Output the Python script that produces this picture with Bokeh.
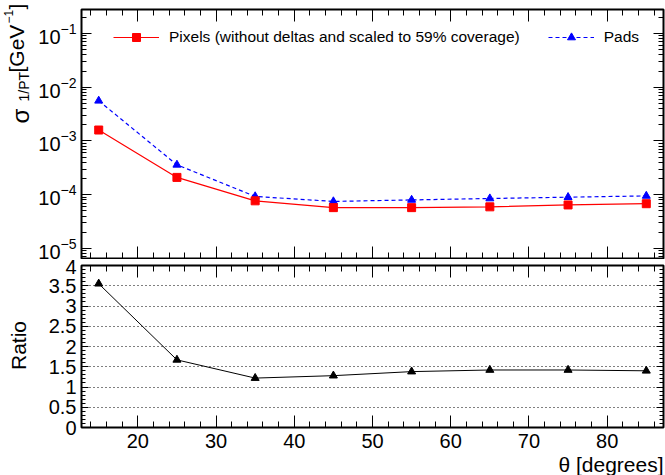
import math
from bokeh.plotting import figure
from bokeh.models import (Range1d, FixedTicker, LinearAxis, LogAxis, Label,
                          Legend, LegendItem, ColumnDataSource, Title,
                          CustomJSTickFormatter)
from bokeh.layouts import column, row
from bokeh.embed import file_html
from bokeh.resources import INLINE

# ---------------- data ----------------
theta = [15, 25, 35, 45, 55, 65, 75, 85]
pixels = [1.6e-3, 2.1e-4, 7.7e-5, 5.75e-5, 5.75e-5, 5.95e-5, 6.45e-5, 6.8e-5]
pads = [5.6e-3, 3.6e-4, 9.3e-5, 7.5e-5, 8.0e-5, 8.5e-5, 9.0e-5, 9.5e-5]
ratio = [3.55, 1.67, 1.22, 1.28, 1.38, 1.42, 1.42, 1.40]

x_major = [20, 30, 40, 50, 60, 70, 80]
x_minor = [14, 16, 18, 22, 24, 26, 28, 32, 34, 36, 38, 42, 44, 46, 48,
           52, 54, 56, 58, 62, 64, 66, 68, 72, 74, 76, 78, 82, 84, 86]
log_major = [1e-5, 1e-4, 1e-3, 1e-2, 1e-1]
log_minor = [m * 10.0 ** e for e in range(-6, 0) for m in range(2, 10)]
ratio_major = [0, 0.5, 1, 1.5, 2, 2.5, 3, 3.5, 4]
ratio_minor = [i / 10 for i in range(0, 41) if i % 5 != 0]
ratio_grid = [0.5, 1, 1.5, 2, 2.5, 3, 3.5]

legend_pixels = "Pixels (without deltas and scaled to 59% coverage)"
legend_pads = "Pads"
x_title = "\u03b8 [degrees]"
ratio_title = "Ratio"

FONT = "Liberation Sans"

src = ColumnDataSource(dict(theta=theta, pixels=pixels, pads=pads, ratio=ratio))
x_range = Range1d(12.8, 87.2)

LEFT_W = 34          # strip holding the vertical axis titles
MAIN_W = 665 - LEFT_W


def style_axis(ax, tin, tmin, ticker, labels=True, standoff=5):
    ax.ticker = ticker
    ax.axis_line_color = None
    ax.major_tick_in = tin
    ax.major_tick_out = 0
    ax.minor_tick_in = tmin
    ax.minor_tick_out = 0
    ax.major_tick_line_color = "black"
    ax.minor_tick_line_color = "black"
    ax.major_tick_line_width = 1
    ax.minor_tick_line_width = 1
    if labels:
        ax.major_label_text_font = FONT
        ax.major_label_text_font_size = "20px"
        ax.major_label_text_color = "black"
        ax.major_label_standoff = standoff
    else:
        ax.formatter = CustomJSTickFormatter(code="return ''")
        ax.major_label_text_font_size = "1px"
        ax.major_label_standoff = 0


# ---------------- left strip with rotated axis titles ----------------
lf = figure(width=LEFT_W, height=475, x_range=Range1d(0, LEFT_W),
            y_range=Range1d(0, 475), output_backend="svg",
            toolbar_location=None, x_axis_location=None,
            y_axis_location=None, min_border=0)
lf.outline_line_color = None
lf.xgrid.visible = False
lf.ygrid.visible = False
lf.background_fill_color = "white"
lf.border_fill_color = "white"

rot = math.pi / 2
# sigma_{1/PT} [GeV^{-1}]  (x = middle of the text line, y upward)
pieces = [
    ("\u03c3", 20, 352, "24px"),
    ("1/PT", 23, 374, "14px"),
    ("[GeV", 16, 403, "21px"),
    ("\u22121", 8, 452, "12px"),
    ("]", 16, 466, "21px"),
]
for txt, sx, sy, fs in pieces:
    lf.add_layout(Label(x=sx, y=sy, x_units="screen", y_units="screen",
                        text=txt, angle=rot, text_align="left",
                        text_baseline="middle", text_font=FONT,
                        text_font_size=fs, text_color="black"))
lf.add_layout(Label(x=17.5, y=130, x_units="screen", y_units="screen",
                    text=ratio_title, angle=rot, text_align="center",
                    text_baseline="middle", text_font=FONT,
                    text_font_size="21px", text_color="black"))

# ---------------- top panel ----------------
p1 = figure(width=MAIN_W, height=259, x_range=x_range,
            y_range=Range1d(6.5e-6, 0.28), y_axis_type="log",
            output_backend="svg", toolbar_location=None,
            min_border_left=81 - LEFT_W, min_border_right=2,
            min_border_top=9, min_border_bottom=1)
p1.outline_line_color = "black"
p1.outline_line_width = 2
p1.xgrid.visible = False
p1.ygrid.visible = False
p1.background_fill_color = "white"
p1.border_fill_color = "white"

xt = FixedTicker(ticks=x_major, minor_ticks=x_minor)
lt = FixedTicker(ticks=log_major, minor_ticks=log_minor)

style_axis(p1.xaxis[0], 12, 6, xt, labels=False)
style_axis(p1.yaxis[0], 10, 5, lt, labels=True, standoff=5)
top1 = LinearAxis()
style_axis(top1, 12, 6, xt, labels=False)
p1.add_layout(top1, "above")
right1 = LogAxis()
style_axis(right1, 10, 5, lt, labels=False)
p1.add_layout(right1, "right")

l_pad = p1.line("theta", "pads", source=src, line_color="blue",
                line_dash="4 3", line_width=1.2)
s_pad = p1.scatter("theta", "pads", source=src, marker="triangle", size=8,
                   fill_color="blue", line_color="blue")
l_pix = p1.line("theta", "pixels", source=src, line_color="red", line_width=1.2)
s_pix = p1.scatter("theta", "pixels", source=src, marker="square", size=8,
                   fill_color="red", line_color="red")

legend = Legend(items=[LegendItem(label=legend_pixels, renderers=[l_pix, s_pix]),
                       LegendItem(label=legend_pads, renderers=[l_pad, s_pad])],
                orientation="horizontal", location=(32, 211),
                glyph_width=46, glyph_height=20, label_height=20,
                label_standoff=10, spacing=28, padding=0, margin=0,
                background_fill_alpha=0, border_line_color=None,
                label_text_font=FONT, label_text_font_size="15.5px",
                label_text_color="black")
p1.add_layout(legend)

# ---------------- ratio panel ----------------
p2 = figure(width=MAIN_W, height=216, x_range=x_range, y_range=Range1d(0, 4),
            output_backend="svg", toolbar_location=None,
            min_border_left=81 - LEFT_W, min_border_right=2,
            min_border_top=6, min_border_bottom=47)
p2.outline_line_color = "black"
p2.outline_line_width = 2
p2.xgrid.visible = False
p2.background_fill_color = "white"
p2.border_fill_color = "white"

rt = FixedTicker(ticks=ratio_major, minor_ticks=ratio_minor)
style_axis(p2.xaxis[0], 12, 6, xt, labels=True, standoff=6)
style_axis(p2.yaxis[0], 7, 4, rt, labels=True, standoff=5)
top2 = LinearAxis()
style_axis(top2, 12, 6, xt, labels=False)
p2.add_layout(top2, "above")
right2 = LinearAxis()
style_axis(right2, 7, 4, rt, labels=False)
p2.add_layout(right2, "right")

p2.ygrid[0].ticker = FixedTicker(ticks=ratio_grid)
p2.ygrid[0].grid_line_color = "black"
p2.ygrid[0].grid_line_dash = "1 3"
p2.ygrid[0].grid_line_width = 1

p2.line("theta", "ratio", source=src, line_color="black", line_width=1)
p2.scatter("theta", "ratio", source=src, marker="triangle", size=8,
           fill_color="black", line_color="black")

p2.add_layout(Title(text=x_title, align="right", vertical_align="bottom",
                    standoff=0, offset=0, text_font=FONT,
                    text_font_size="21px", text_font_style="normal",
                    text_color="black"), "below")

layout = row(lf, column(p1, p2, spacing=0), spacing=0)
open("out.html", "w").write(file_html(layout, INLINE))
